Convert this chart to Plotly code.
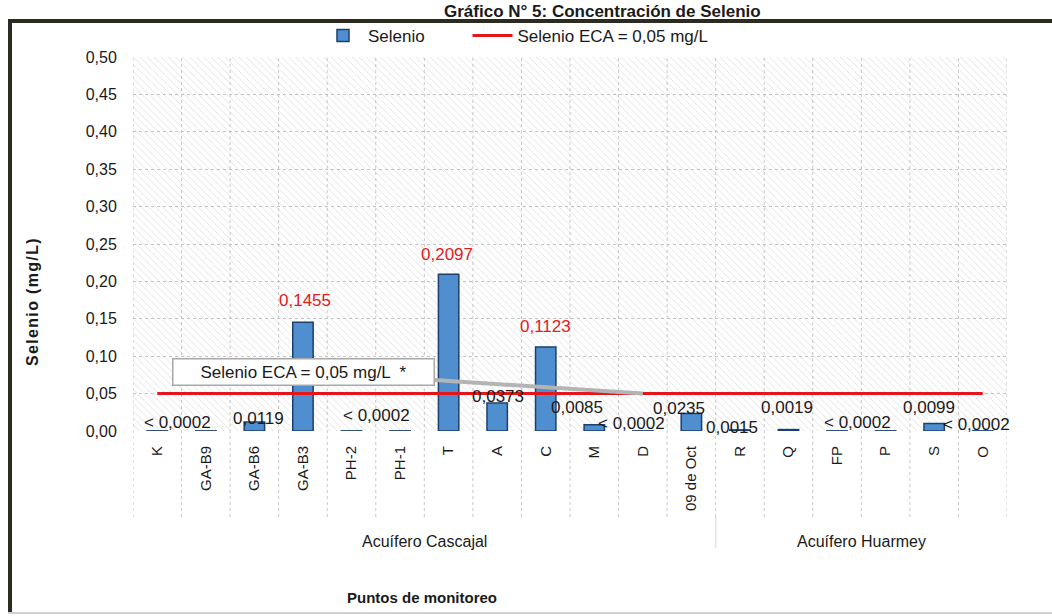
import plotly.graph_objects as go

# --- data -------------------------------------------------------------
puntos = ["K", "GA-B9", "GA-B6", "GA-B3", "PH-2", "PH-1", "T", "A", "C",
          "M", "D", "09 de Oct", "R", "Q", "FP", "P", "S", "O"]
selenio = [0.0002, 0.0002, 0.0119, 0.1455, 0.0002, 0.0002, 0.2097, 0.0373,
           0.1123, 0.0085, 0.0002, 0.0235, 0.0015, 0.0019, 0.0002, 0.0002,
           0.0099, 0.0002]
bajo_limite = [True, True, False, False, True, True, False, False, False,
               False, True, False, False, False, True, True, False, True]
eca = 0.05
acuiferos = ["Acuífero Cascajal", "Acuífero Huarmey"]
puntos_por_acuifero = [12, 6]
y_max = 0.50
y_paso = 0.05

# --- canvas geometry --------------------------------------------------
W, H = 1052, 616
ML, MR, MT, MB = 133, 45, 57, 185
PW, PH = W - ML - MR, H - MT - MB


def fx(p):
    return (p - ML) / PW


def fy(p):
    return (H - MB - p) / PH


FONT = "Liberation Sans, Arial, sans-serif"
n = len(puntos)
HS = "\u200a"   # hair space used for letter spacing
NB = "\u00a0"   # non-breaking space used to widen the legend gap

fig = go.Figure()

# hatched plot background
fig.add_trace(go.Bar(
    x=puntos, y=[y_max] * n, width=1.0,
    marker=dict(color="rgba(0,0,0,0)", line=dict(width=0),
                pattern=dict(shape="\\", fgcolor="#b2b2b2", size=5,
                             solidity=0.14, fillmode="overlay")),
    hoverinfo="skip", showlegend=False,
))

fig.add_trace(go.Bar(
    x=puntos, y=selenio, width=0.42, name="Selenio" + NB * 8,
    marker=dict(color="#4f8fcf", line=dict(color="#1d3f6e", width=1.5)),
))

fig.add_trace(go.Scatter(
    x=puntos, y=[eca] * n, mode="lines", name="Selenio ECA = 0,05 mg/L",
    line=dict(color="#e3161b", width=3),
))

# value labels on bars
offsets = {
    "K": (20, 8), "GA-B6": (4, 4), "GA-B3": (2, 22), "PH-2": (25, 15),
    "T": (-2, 20), "A": (1, 7), "C": (0, 21), "M": (-17, 17),
    "D": (-11, 7), "09 de Oct": (-12, 5), "R": (-8, 2), "Q": (-2, 22),
    "FP": (20, 8), "S": (-5, 16), "O": (-6, 6),
}
annotations = []
for p, v, bl in zip(puntos, selenio, bajo_limite):
    if p not in offsets:
        continue
    dx, dy = offsets[p]
    num = f"{v:.4f}".replace(".", ",")
    txt = "< " + num if bl else num
    color = "#e02020" if v > eca else "#1a1a1a"
    annotations.append(dict(
        x=p, y=v, xref="x", yref="y", text=txt, showarrow=False,
        xanchor="center", yanchor="middle", xshift=dx, yshift=dy,
        font=dict(family=FONT, size=17, color=color),
    ))

# callout for the ECA line
annotations.append(dict(
    x="D", y=eca, xref="x", yref="y",
    text="Selenio ECA = 0,05 mg/L  *",
    showarrow=True, arrowhead=0, arrowwidth=4, arrowcolor="#b4b4b4",
    ax=-339, ay=-22, standoff=0, startstandoff=0,
    width=256, height=21, align="center",
    bgcolor="white", bordercolor="#a8a8a8", borderwidth=1.5, borderpad=2,
    font=dict(family=FONT, size=17, color="#1a1a1a"),
))

# aquifer group labels
inicio = 0
for nombre, k in zip(acuiferos, puntos_por_acuifero):
    annotations.append(dict(
        x=inicio + (k - 1) / 2, y=fy(541), xref="x", yref="paper",
        text=nombre, showarrow=False, xanchor="center", yanchor="middle",
        font=dict(family=FONT, size=16, color="#1a1a1a"),
    ))
    inicio += k

# axis titles and chart title
titulo_y = HS.join("Selenio (mg/L)")
annotations += [
    dict(x=fx(32), y=fy(302), xref="paper", yref="paper",
         xanchor="center", yanchor="middle",
         text="<b>" + titulo_y + "</b>", textangle=-90, showarrow=False,
         font=dict(family=FONT, size=16, color="#1a1a1a")),
    dict(x=fx(422), y=fy(597), xref="paper", yref="paper",
         xanchor="center", yanchor="middle",
         text="<b>Puntos de monitoreo</b>", showarrow=False,
         font=dict(family=FONT, size=15, color="#1a1a1a")),
    dict(x=fx(602), y=fy(0), xref="paper", yref="paper",
         xanchor="center", yanchor="top",
         text="<b>Gráfico N° 5: Concentración de Selenio</b>",
         showarrow=False,
         font=dict(family=FONT, size=17, color="#1a1a1a")),
]

shapes = []
# vertical grid lines between sampling points, continuing through the label band
for i in range(n + 1):
    shapes.append(dict(
        type="line", xref="x", yref="paper", x0=i - 0.5, x1=i - 0.5,
        y0=fy(517), y1=1, layer="below",
        line=dict(color="#c8c8c8", width=1, dash="dot"),
    ))
# separator between aquifers
shapes.append(dict(
    type="line", xref="x", yref="paper",
    x0=puntos_por_acuifero[0] - 0.5, x1=puntos_por_acuifero[0] - 0.5,
    y0=fy(548), y1=fy(517), line=dict(color="#e2e2e2", width=1.5),
))
# chart frame
shapes += [
    dict(type="line", xref="paper", yref="paper", x0=fx(10), x1=fx(10),
         y0=fy(21), y1=fy(613), line=dict(color="#2b2b22", width=4)),
    dict(type="line", xref="paper", yref="paper", x0=fx(8), x1=fx(W),
         y0=fy(21), y1=fy(21), line=dict(color="#2b2b22", width=4)),
    dict(type="line", xref="paper", yref="paper", x0=fx(8), x1=fx(W),
         y0=fy(613), y1=fy(613), line=dict(color="#d0d0d0", width=2)),
]

fig.update_layout(
    width=W, height=H,
    margin=dict(l=ML, r=MR, t=MT, b=MB, pad=0),
    paper_bgcolor="white", plot_bgcolor="white",
    separators=",.",
    barmode="overlay",
    font=dict(family=FONT, size=15, color="#1a1a1a"),
    legend=dict(orientation="h", x=fx(318), xanchor="left",
                y=fy(36), yanchor="middle",
                font=dict(family=FONT, size=17, color="#1a1a1a"),
                bgcolor="rgba(0,0,0,0)", itemwidth=40),
    xaxis=dict(type="category", tickangle=-90, showgrid=False,
               showline=False, ticks="outside", ticklen=8,
               tickcolor="rgba(0,0,0,0)", zeroline=False,
               tickfont=dict(family=FONT, size=15, color="#1a1a1a"),
               range=[-0.5, n - 0.5]),
    yaxis=dict(range=[0, y_max], dtick=y_paso, tickformat=".2f",
               showgrid=True, gridcolor="#c4c4c4", griddash="dot",
               zeroline=False, showline=False, ticks="outside",
               ticklen=12, tickcolor="rgba(0,0,0,0)",
               tickfont=dict(family=FONT, size=16, color="#1a1a1a")),
    annotations=annotations,
    shapes=shapes,
    hovermode=False,
)

fig.write_html("out.html")
